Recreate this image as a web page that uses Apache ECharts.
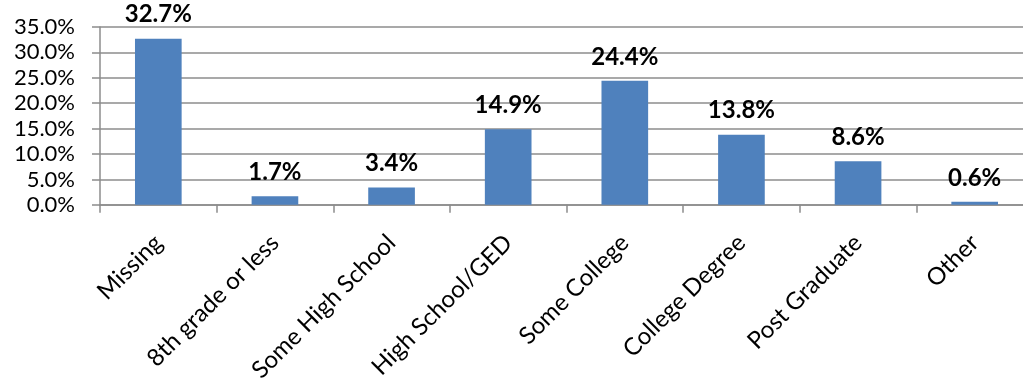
<!DOCTYPE html>
<html>
<head>
<meta charset="utf-8">
<script src="https://cdn.jsdelivr.net/npm/echarts@6/dist/echarts.min.js"></script>
<style>
  html, body { margin: 0; padding: 0; background: #fff; overflow: hidden; }
  /* plot area runs past the right edge in the original, so the canvas is wider than the window */
  #chart { width: 1040px; height: 385px; }
</style>
</head>
<body>
<div id="chart"></div>
<script>
const categories = ['Missing', '8th grade or less', 'Some High School', 'High School/GED', 'Some College', 'College Degree', 'Post Graduate', 'Other']
const shares = [32.7, 1.7, 3.4, 14.9, 24.4, 13.8, 8.6, 0.6]

const axisGray = '#8c8c8c'
const font = 'Lato, "Open Sans", sans-serif'

const chart = echarts.init(document.getElementById('chart'))
chart.setOption({
  animation: false,
  grid: { left: 100, top: 27, right: 7, bottom: 179, containLabel: false },
  xAxis: {
    type: 'category',
    data: categories,
    axisLine: { lineStyle: { color: axisGray, width: 1.5 } },
    axisTick: { show: true, length: 8, lineStyle: { color: axisGray, width: 1.5 } },
    axisLabel: { rotate: 45, margin: 34, color: '#000', fontSize: 24, fontFamily: font, interval: 0 },
  },
  yAxis: {
    type: 'value',
    min: 0,
    max: 35,
    interval: 5,
    axisLine: { show: true, lineStyle: { color: axisGray, width: 1.5 } },
    axisTick: { show: true, length: 8, lineStyle: { color: axisGray, width: 1.5 } },
    splitLine: { lineStyle: { color: axisGray, width: 1.5 } },
    axisLabel: {
      color: '#000', fontSize: 22, fontFamily: font, margin: 25,
      formatter: (v) => v.toFixed(1) + '%',
    },
  },
  series: [
    {
      type: 'bar',
      data: shares,
      barCategoryGap: '60%',
      itemStyle: { color: '#4F81BD' },
      label: {
        show: true,
        position: 'top',
        distance: 12,
        color: '#000',
        fontWeight: 'bold',
        fontSize: 24,
        fontFamily: font,
        formatter: (p) => p.value.toFixed(1) + '%',
      },
    },
  ],
})
</script>
</body>
</html>
